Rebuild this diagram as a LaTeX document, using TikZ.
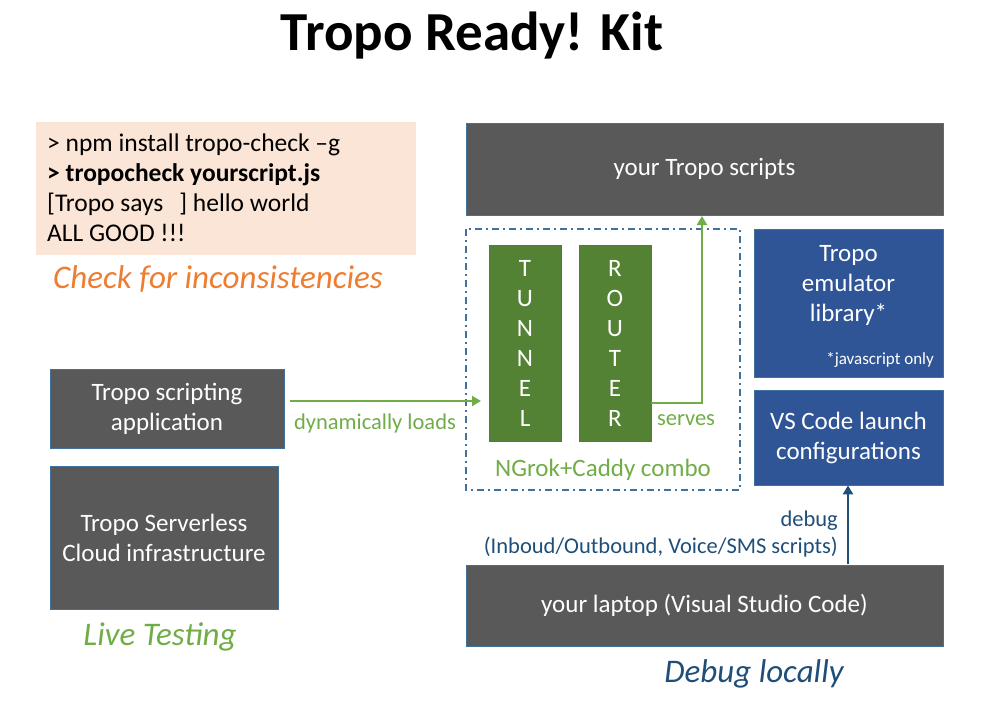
\documentclass[tikz,border=0pt]{standalone}
\usepackage{fontspec}
\setmainfont{Carlito}
\usetikzlibrary{arrows.meta}

\definecolor{boxgray}{HTML}{595959}
\definecolor{edgeblue}{HTML}{41719C}
\definecolor{libblue}{HTML}{2F5597}
\definecolor{tunnelgreen}{HTML}{548235}
\definecolor{arrowgreen}{HTML}{70AD47}
\definecolor{peach}{HTML}{FBE5D6}
\definecolor{checkorange}{HTML}{ED7D31}
\definecolor{debugblue}{HTML}{1F4E79}

\tikzset{
  graybox/.style={draw=edgeblue, line width=0.8pt, fill=boxgray, text=white,
    align=center, font=\fontsize{25}{30}\selectfont, inner sep=0pt},
  bluebox/.style={graybox, fill=libblue},
  letterbox/.style={graybox, fill=tunnelgreen, font=\fontsize{25}{30}\selectfont,
    minimum width=72pt, minimum height=196pt},
  caption/.style={font=\fontsize{33}{36}\selectfont\itshape},
  greenarrow/.style={draw=arrowgreen, line width=2.6pt, -{Triangle[length=9pt,width=10pt]}},
}

\begin{document}
\begin{tikzpicture}[x=1pt,y=-1pt]
    \useasboundingbox (0,0) rectangle (982,707);

    % Titel
    \node[font=\fontsize{55}{58}\selectfont\bfseries] (title) at (472,36) {Tropo Ready! Kit};

    % Check-Teil
    \fill[peach] (36,122) rectangle (416,255);
    \node[anchor=north west, align=left, font=\fontsize{25.5}{30}\selectfont, inner sep=0pt]
      (cmds) at (47,134) {> npm install tropo-check –g\\
        \textbf{> tropocheck yourscript.js}\\
        {[}Tropo says\hspace{16pt}] hello world\\
        ALL GOOD !!!};
    \node[caption, text=checkorange] (check) at (218,279) {Check for inconsistencies};

    % Live-Test-Teil
    \node[graybox, minimum width=234pt, minimum height=79pt] (app) at (167,408.5)
      {Tropo scripting\\application};
    \node[graybox, minimum width=228pt, minimum height=143pt] (cloud) at (164,537.5)
      {Tropo Serverless\\Cloud infrastructure};
    \node[caption, text=arrowgreen] (live) at (160,637) {Live Testing};

    % Lokaler Teil
    \node[graybox, minimum width=477pt, minimum height=92pt] (scripts) at (704.5,169)
      {your Tropo scripts};
    \draw[edgeblue, line width=1.5pt, dash pattern=on 7pt off 4pt on 2pt off 4pt]
      (466,229) rectangle (740,490);
    \node[letterbox] (tunnel) at (525,343.5) {T\\U\\N\\N\\E\\L};
    \node[letterbox] (router) at (615,343.5) {R\\O\\U\\T\\E\\R};
    \node[text=arrowgreen, font=\fontsize{25}{27}\selectfont] (combo) at (603,470) {NGrok+Caddy combo};

    \node[bluebox, minimum width=189pt, minimum height=148pt] (emul) at (848.5,303) {};
    \node[text=white, align=center, font=\fontsize{25}{30}\selectfont] (emultext) at (848.5,285)
      {Tropo\\emulator\\library*};
    \node[text=white, font=\fontsize{17}{18}\selectfont, anchor=east, inner sep=0pt]
      (jsonly) at (934,360) {*javascript only};
    \node[bluebox, minimum width=189pt, minimum height=95pt] (vscode) at (848.5,437.5)
      {VS Code launch\\configurations};
    \node[graybox, minimum width=477pt, minimum height=81pt] (laptop) at (704.5,605.5)
      {your laptop (Visual Studio Code)};
    \node[caption, text=debugblue] (local) at (754,674) {Debug locally};

    % Pfeile
    \coordinate (loadstart) at (290,401);
    \coordinate (loadend) at (481,401);
    \draw[greenarrow] (loadstart) -- (loadend);
    \node[text=arrowgreen, font=\fontsize{22.5}{24}\selectfont] (loads) at (375,423) {dynamically loads};
    \coordinate (servestart) at (router.east |- 0,403);
    \coordinate (serveend) at (702,216);
    \draw[greenarrow] (servestart) -| (serveend);
    \node[text=arrowgreen, font=\fontsize{22.5}{24}\selectfont] (serves) at (686,420) {serves};
    \coordinate (debugstart) at (848,564);
    \draw[draw=debugblue, line width=2.6pt, -{Triangle[length=9pt,width=10pt]}]
      (debugstart) -- (debugstart |- vscode.south);
    \node[text=debugblue, font=\fontsize{22.5}{27}\selectfont, align=right, anchor=south east,
      inner sep=0pt] (debug) at (838,557) {debug\\(Inboud/Outbound, Voice/SMS scripts)};
\end{tikzpicture}
\end{document}
